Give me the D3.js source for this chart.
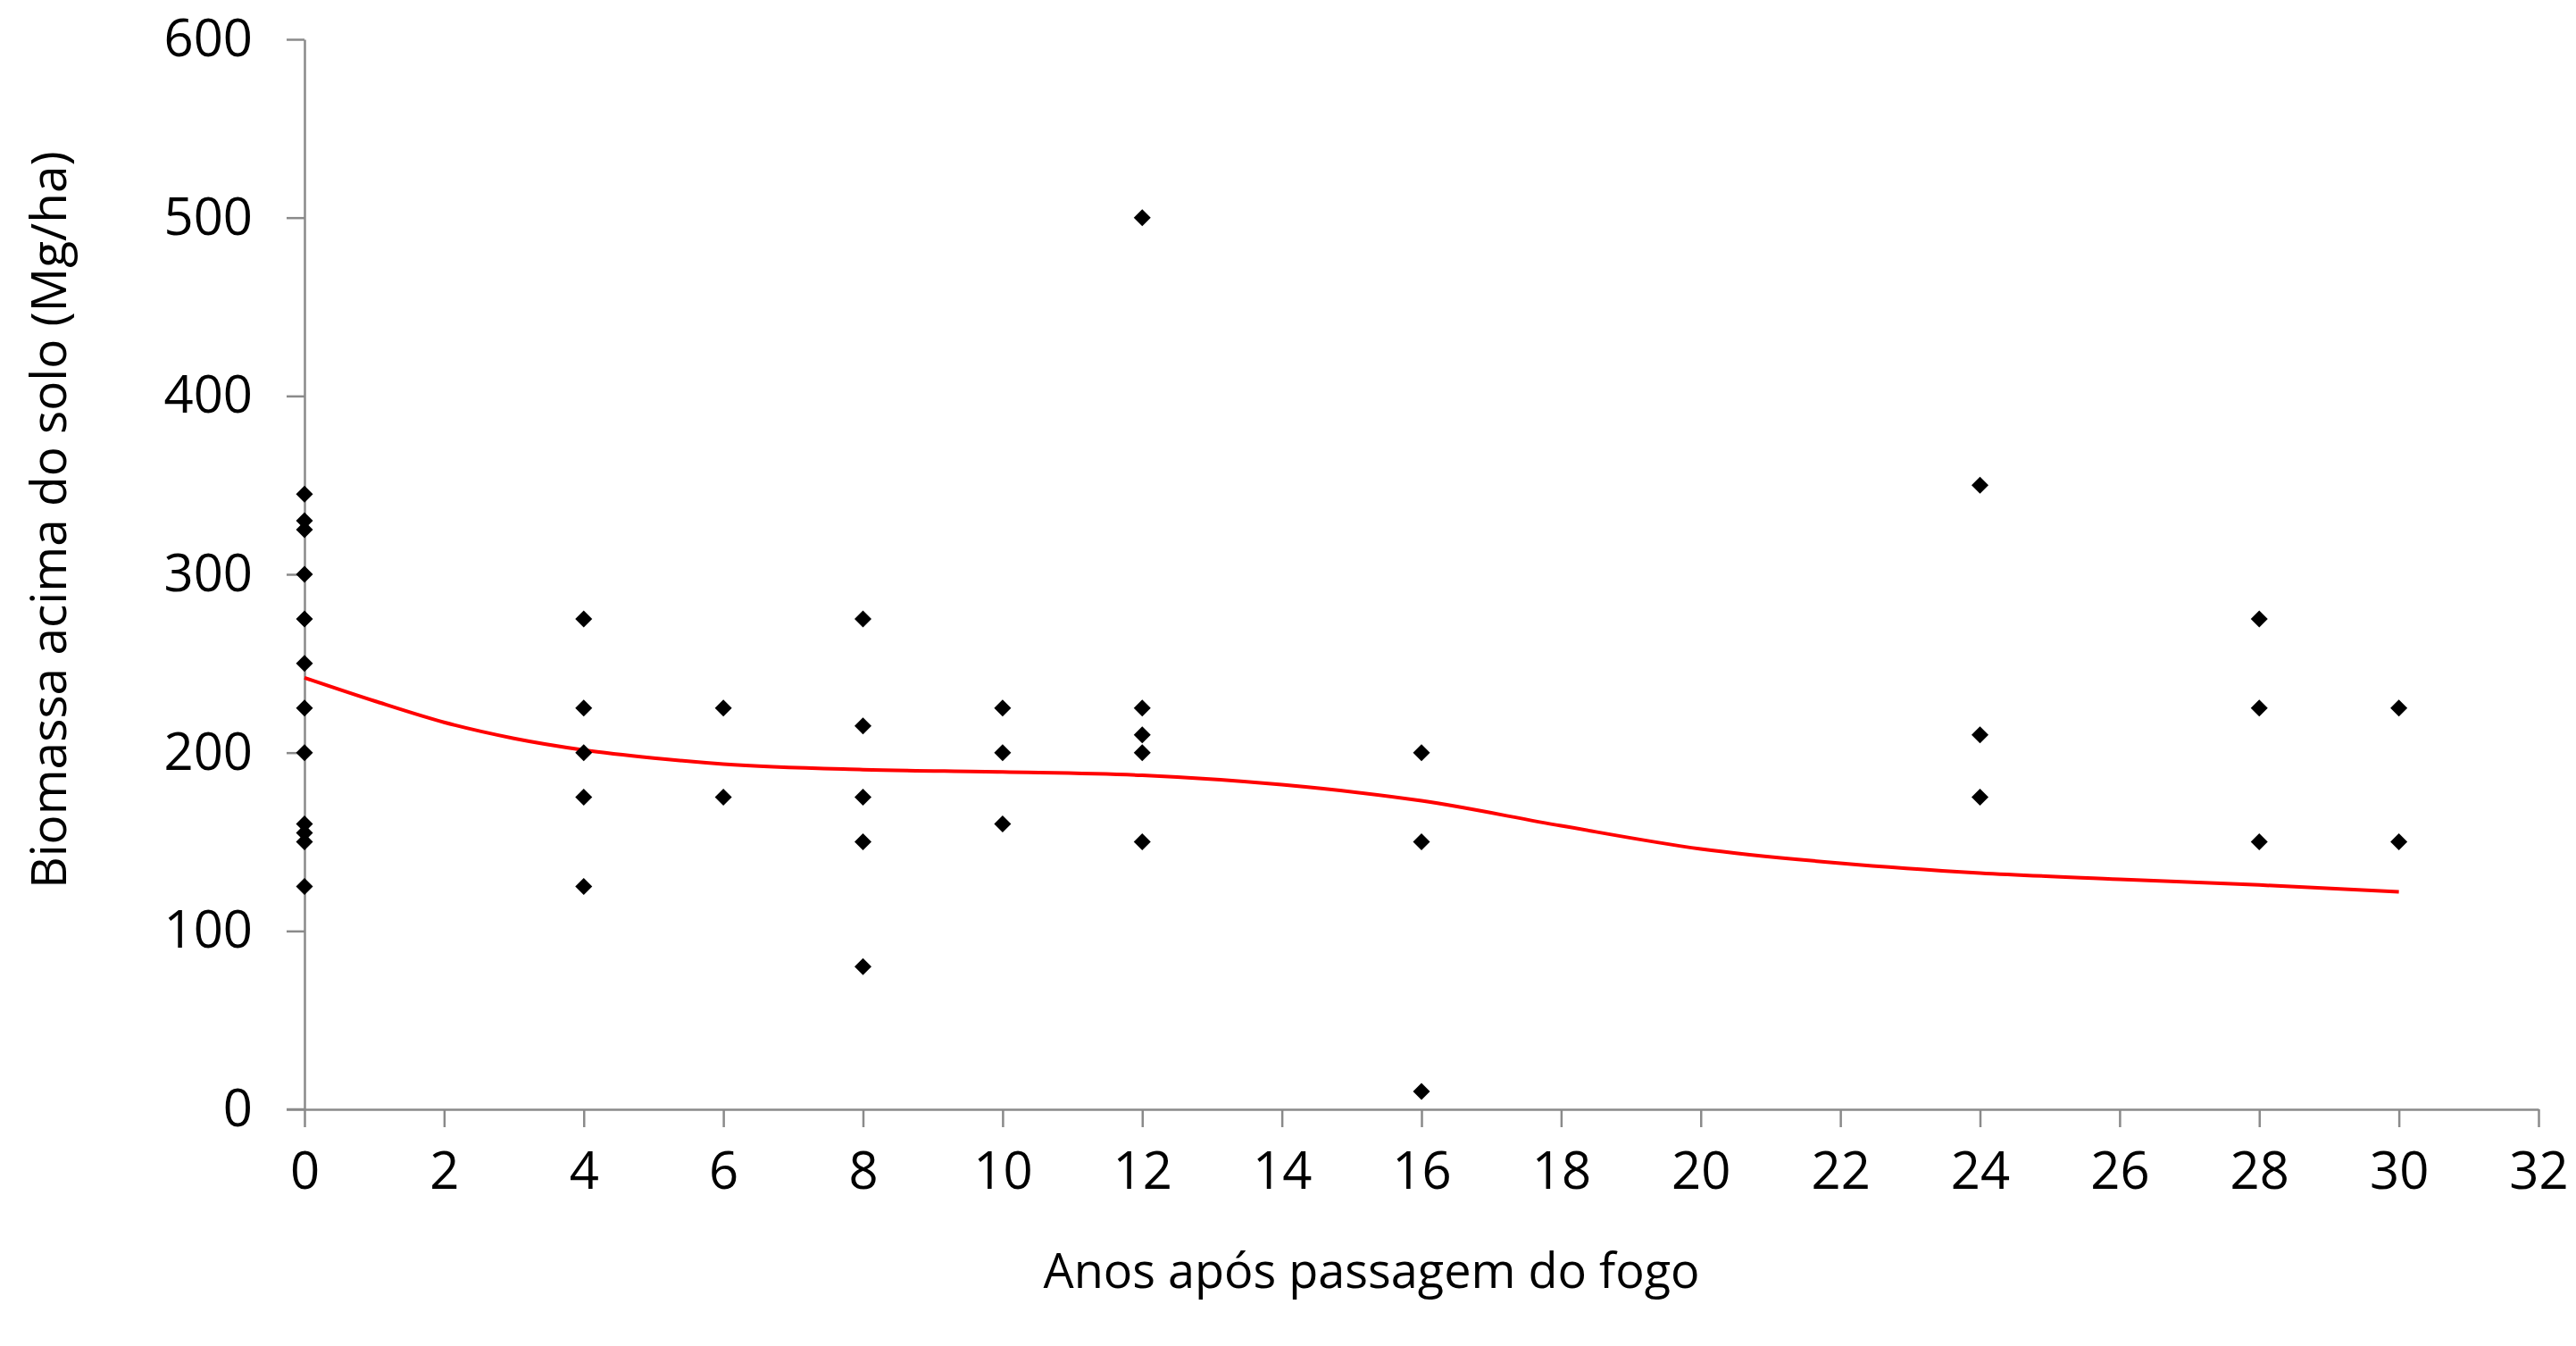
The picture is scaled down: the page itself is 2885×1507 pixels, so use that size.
<!DOCTYPE html>
<html>
<head>
<meta charset="utf-8">
<script src="https://cdn.jsdelivr.net/npm/d3@7"></script>
<style>
  body { margin: 0; background: #fff; }
  text { font-family: "Open Sans", sans-serif; fill: #000; }
</style>
</head>
<body>
<svg></svg>
<script>
// years after fire (x) and aboveground biomass (y)
const years = [0,0,0,0,0,0,0,0,0,0,0,0,
  4,4,4,4,4,
  6,6,
  8,8,8,8,8,
  10,10,10,
  12,12,12,12,12,
  16,16,16,
  24,24,24,
  28,28,28,
  30,30]
const biomass = [345,330,325,300,275,250,225,200,160,155,150,125,
  275,225,200,175,125,
  225,175,
  275,215,175,150,80,
  225,200,160,
  500,225,210,200,150,
  200,150,10,
  350,210,175,
  275,225,150,
  225,150]

// red trend curve
const trendX = [0,1,2,3,4,5,6,8,10,12,14,16,18,20,22,24,26,28,30]
const trendY = [242,229,217,208,201.5,197,193.6,190.5,189.2,187.3,182,173,159,146,138,132.5,129,125.8,122]

const xTicks = d3.range(0, 33, 2)
const yTicks = d3.range(0, 601, 100)

const w = 2885
const h = 1507
const padLeft = 341
const padRight = 2843
const padTop = 44
const padBottom = 1242

const svg = d3.select("svg").attr("width", w).attr("height", h)

const xScale = d3.scaleLinear().domain([0, 32]).range([padLeft, padRight])
const yScale = d3.scaleLinear().domain([0, 600]).range([padBottom, padTop])

let drawAxis = () => {
    let axisX = d3.axisBottom(xScale).tickValues(xTicks).tickSize(20).tickSizeOuter(0).tickPadding(28)
    let gx = svg.append("g").attr("transform", "translate(0," + padBottom + ")").call(axisX)
    let axisY = d3.axisLeft(yScale).tickValues(yTicks).tickSize(20).tickSizeOuter(0).tickPadding(38)
    let gy = svg.append("g").attr("transform", "translate(" + padLeft + ",0)").call(axisY)
    // extend x domain line to the left like the reference
    svg.append("line").attr("x1", padLeft - 20).attr("x2", padLeft).attr("y1", padBottom).attr("y2", padBottom)
        .attr("stroke", "#8a8a8a").attr("stroke-width", 2.5)
    ;[gx, gy].forEach(g => {
        g.selectAll("path, line").attr("stroke", "#8a8a8a").attr("stroke-width", 2.5)
        g.selectAll("text").style("font-size", "58px").attr("fill", "#000")
    })
}

let dataPoints = () => {
    const pts = years.map((x, i) => ({x: x, y: biomass[i]}))
    svg.append("g").selectAll("path").data(pts).enter().append("path")
        .attr("d", d3.symbol().type(d3.symbolSquare).size(180))
        .attr("transform", d => "translate(" + xScale(d.x) + "," + yScale(d.y) + ") rotate(45)")
        .attr("fill", "#000")
}

let trend = () => {
    const line = d3.line().x(d => xScale(d[0])).y(d => yScale(d[1])).curve(d3.curveMonotoneX)
    svg.append("path").datum(trendX.map((x, i) => [x, trendY[i]]))
        .attr("d", line).attr("fill", "none").attr("stroke", "#ff0000").attr("stroke-width", 4)
}

let labels = () => {
    svg.append("text").attr("x", 1536).attr("y", 1442).attr("text-anchor", "middle")
        .style("font-size", "54px").text("Anos após passagem do fogo")
    svg.append("text").attr("transform", "translate(74,582) rotate(-90)").attr("text-anchor", "middle")
        .style("font-size", "55px").text("Biomassa acima do solo (Mg/ha)")
}

drawAxis()
trend()
dataPoints()
labels()
</script>
</body>
</html>
